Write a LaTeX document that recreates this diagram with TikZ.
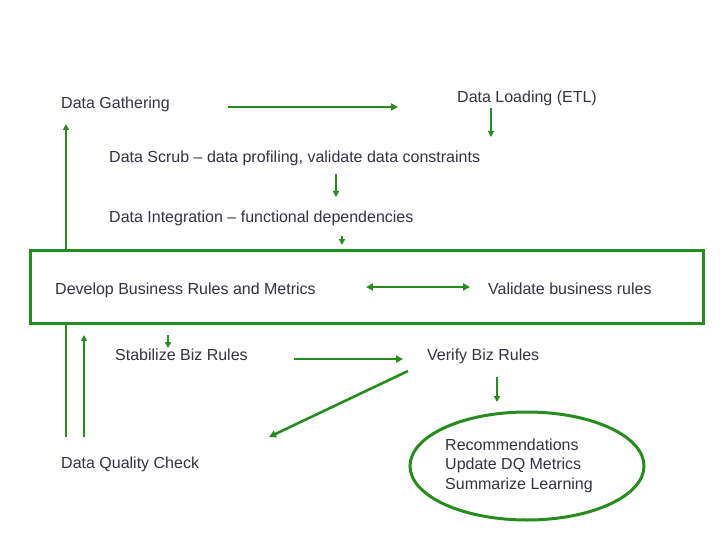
\documentclass[tikz,border=0pt]{standalone}
\usepackage{fontspec}
\setmainfont{Liberation Sans}
\usetikzlibrary{arrows.meta,shapes.geometric}
\definecolor{grn}{RGB}{38,140,30}
\definecolor{txt}{RGB}{50,50,65}
\begin{document}
\begin{tikzpicture}[x=1pt,y=-1pt,
  lbl/.style={anchor=base west,inner sep=0pt,text=txt,font=\fontsize{16}{19}\selectfont},
  arr/.style={draw=grn,line width=2.6pt,-{Triangle[length=7pt,width=7pt]}},
  thinarr/.style={draw=grn,line width=1.9pt,-{Triangle[length=6pt,width=6pt]}},
  ln/.style={draw=grn,line width=2.8pt}]
\useasboundingbox (0,0) rectangle (720,540);
% texts
\node[lbl] (gather) at (61,108.5) {Data Gathering};
\node[lbl] (load) at (457,102.5) {Data Loading (ETL)};
\node[lbl] (scrub) at (109,162.5) {Data Scrub -- data profiling, validate data constraints};
\node[lbl] (integ) at (109,222.5) {Data Integration -- functional dependencies};
\node[lbl] (dev) at (55,294.5) {Develop Business Rules and Metrics};
\node[lbl] (valid) at (488,294.5) {Validate business rules};
\node[lbl] (stab) at (115,360.5) {Stabilize Biz Rules};
\node[lbl] (verify) at (427,360.5) {Verify Biz Rules};
\node[lbl] (dqc) at (61,468.5) {Data Quality Check};
\node[draw=grn,line width=3pt,ellipse,minimum width=234pt,minimum height=108pt] (ell) at (527,466) {};
\node[lbl,align=left,font=\fontsize{16}{19.3}\selectfont] (rec) at (445,489) {Recommendations\\Update DQ Metrics\\Summarize Learning};
% frame
\node[draw=grn,line width=3pt,minimum width=673pt,minimum height=73pt,inner sep=0pt] (box) at (366.5,286.5) {};
% coordinates
\coordinate (a1) at (228,107); \coordinate (a2) at (398,107);
\coordinate (b1) at (491,108); \coordinate (b2) at (491,137);
\coordinate (c1) at (336,174); \coordinate (c2) at (336,197);
\coordinate (d1) at (342,236); \coordinate (d2) at (342,245);
\coordinate (e1) at (66,250); \coordinate (e2) at (66,124);
\coordinate (f1) at (366,287); \coordinate (f2) at (470,287);
\coordinate (g1) at (66,323); \coordinate (g2) at (66,437);
\coordinate (h1) at (84,437); \coordinate (h2) at (84,335);
\coordinate (i1) at (168,335); \coordinate (i2) at (168,348);
\coordinate (j1) at (294,359); \coordinate (j2) at (403,359);
\coordinate (k1) at (408,371); \coordinate (k2) at (269,437);
\coordinate (l1) at (497,377); \coordinate (l2) at (497,402);
% connectors
\draw[arr] (a1) -- (a2);
\draw[thinarr] (b1) -- (b2);
\draw[thinarr] (c1) -- (c2);
\draw[thinarr] (d1) -- (d2);
\draw[thinarr] (e1) -- (e2);
\draw[draw=grn,line width=2.6pt,{Triangle[length=7pt,width=7pt]}-{Triangle[length=7pt,width=7pt]}] (f1) -- (f2);
\draw[ln] (g1) -- (g2);
\draw[thinarr] (h1) -- (h2);
\draw[thinarr] (i1) -- (i2);
\draw[arr] (j1) -- (j2);
\draw[arr] (k1) -- (k2);
\draw[thinarr] (l1) -- (l2);
\end{tikzpicture}
\end{document}
